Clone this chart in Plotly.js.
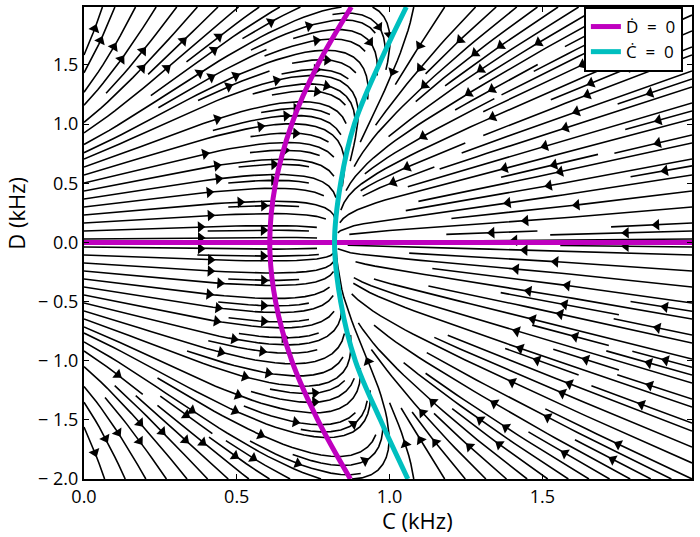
<!DOCTYPE html>
<html>
<head>
<meta charset="utf-8">
<script src="https://cdn.plot.ly/plotly-3.0.1.min.js"></script>
<style>
  body { margin: 0; background: #fff; }
  #chart { width: 700px; height: 537px; }
</style>
</head>
<body>
<div id="chart"></div>
<script>
// nullcline D' = 0, curved branch (C as a function of D)
const dNullD = [-2.0, -1.5, -1.0, -0.5, 0.0, 0.5, 1.0, 1.5, 1.99];
const dNullC = [0.872, 0.765, 0.68, 0.627, 0.608, 0.627, 0.68, 0.765, 0.875];
// D' = 0 also holds on the line D = 0
const dZeroC = [0, 1.99];
const dZeroD = [0, 0];
// nullcline C' = 0
const cNullD = [-2.0, -1.5, -1.0, -0.5, 0.0, 0.5, 1.0, 1.5, 1.99];
const cNullC = [1.06, 0.97, 0.888, 0.84, 0.82, 0.84, 0.885, 0.965, 1.055];

const xTicks = [0, 0.5, 1.0, 1.5];
const xTickText = ['0.0', '0.5', '1.0', '1.5'];
const yTicks = [-2, -1.5, -1, -0.5, 0, 0.5, 1, 1.5];
const yTickText = ['\u2212 2.0', '\u2212 1.5', '\u2212 1.0', '\u2212 0.5', '0.0', '0.5', '1.0', '1.5'];

const xMin = 0, xMax = 1.99, yMin = -2, yMax = 1.99;

// flow rates used to trace the stream lines between the nullclines
const cGain = 0.45, cCross = 1.4, dRate = 1.3, dGain = 1.0;

function interp(xs, ys, x) {
  if (x <= xs[0]) return ys[0];
  for (let i = 1; i < xs.length; i++) {
    if (x <= xs[i]) {
      const t = (x - xs[i - 1]) / (xs[i] - xs[i - 1]);
      return ys[i - 1] + t * (ys[i] - ys[i - 1]);
    }
  }
  return ys[ys.length - 1];
}

function flow(C, D) {
  const dc = (interp(cNullD, cNullC, D) - C) * (1 + cGain * C + cCross * C * D * D);
  const dd = dRate * D * (interp(dNullD, dNullC, D) - C) * (1 + dGain * D * D);
  return [dc, dd];
}

// ---- streamplot, same scheme as matplotlib (axes coords, mask grid) ----
const density = 2;
const NM = Math.floor(30 * density);
const mask = new Uint8Array(NM * NM);
const W = xMax - xMin, H = yMax - yMin;
let traj = [], curCell = null;

function vel(ax, ay, sign) {
  const f = flow(xMin + ax * W, yMin + ay * H);
  const u = f[0] / W, v = f[1] / H;
  const s = Math.hypot(u, v);
  if (s === 0) return null;
  return [sign * u / s, sign * v / s];
}
const inside = (x, y) => x >= 0 && x <= 1 && y >= 0 && y <= 1;
const cellOf = (x, y) => [Math.floor(x * (NM - 1) + 0.5), Math.floor(y * (NM - 1) + 0.5)];

function updateCell(x, y) {
  if (!inside(x, y)) return false;
  const [xm, ym] = cellOf(x, y);
  const key = ym * NM + xm;
  if (key !== curCell) {
    if (mask[key] === 0) {
      traj.push(key);
      mask[key] = 1;
      curCell = key;
    } else return false;
  }
  return true;
}

function rk12(x0, y0, sign) {
  const maxerror = 0.003, maxlength = 4.0;
  const maxds = Math.min(1 / NM, 0.1);
  let ds = maxds, stotal = 0, xi = x0, yi = y0;
  const pts = [];
  while (true) {
    if (!inside(xi, yi)) break;
    pts.push([xi, yi]);
    const k1 = vel(xi, yi, sign);
    if (!k1) break;
    const xt = xi + ds * k1[0], yt = yi + ds * k1[1];
    if (!inside(xt, yt)) {
      // euler step to the border
      const dsx = k1[0] === 0 ? Infinity : (k1[0] < 0 ? xi / -k1[0] : (1 - xi) / k1[0]);
      const dsy = k1[1] === 0 ? Infinity : (k1[1] < 0 ? yi / -k1[1] : (1 - yi) / k1[1]);
      const d = Math.min(dsx, dsy);
      pts.push([xi + k1[0] * d, yi + k1[1] * d]);
      stotal += d;
      break;
    }
    const k2 = vel(xt, yt, sign);
    if (!k2) break;
    const dx1 = ds * k1[0], dy1 = ds * k1[1];
    const dx2 = ds * 0.5 * (k1[0] + k2[0]), dy2 = ds * 0.5 * (k1[1] + k2[1]);
    const err = Math.hypot(dx2 - dx1, dy2 - dy1);
    if (err < maxerror) {
      xi += dx2; yi += dy2;
      if (!updateCell(xi, yi)) break;
      if (stotal + ds > maxlength) break;
      stotal += ds;
    }
    ds = err === 0 ? maxds : Math.min(maxds, 0.85 * ds * Math.sqrt(maxerror / err));
  }
  return [stotal, pts];
}

function integrate(x0, y0) {
  traj = [];
  curCell = null;
  updateCell(x0, y0);
  const start = curCell;
  const back = rk12(x0, y0, -1);
  curCell = start;
  const fwd = rk12(x0, y0, 1);
  const total = back[0] + fwd[0];
  if (total > 0.1) return back[1].slice().reverse().concat(fwd[1].slice(1));
  traj.forEach(k => { mask[k] = 0; });
  return null;
}

function* startingPoints(n) {
  let xfirst = 0, yfirst = 1, xlast = n - 1, ylast = n - 1, x = 0, y = 0, dir = 'right';
  for (let i = 0; i < n * n; i++) {
    yield [x, y];
    if (dir === 'right') { x++; if (x >= xlast) { xlast--; dir = 'up'; } }
    else if (dir === 'up') { y++; if (y >= ylast) { ylast--; dir = 'left'; } }
    else if (dir === 'left') { x--; if (x <= xfirst) { xfirst++; dir = 'down'; } }
    else { y--; if (y <= yfirst) { yfirst++; dir = 'right'; } }
  }
}

const lines = [];
for (const [xm, ym] of startingPoints(NM)) {
  if (mask[ym * NM + xm]) continue;
  const t = integrate(xm / (NM - 1), ym / (NM - 1));
  if (t) lines.push(t.map(p => [xMin + p[0] * W, yMin + p[1] * H]));
}

// plot area in pixels, for arrow angles
const pxW = 608, pxH = 472;
const lineX = [], lineY = [], arrowX = [], arrowY = [], arrowAng = [];
lines.forEach(pts => {
  pts.forEach(p => { lineX.push(p[0]); lineY.push(p[1]); });
  lineX.push(null); lineY.push(null);
  const s = [0];
  for (let i = 1; i < pts.length; i++) {
    s.push(s[i - 1] + Math.hypot(pts[i][0] - pts[i - 1][0], pts[i][1] - pts[i - 1][1]));
  }
  const half = s[s.length - 1] / 2;
  let n = 0;
  while (n < s.length - 2 && s[n + 1] < half) n++;
  const tail = pts[n], nxt = pts[Math.min(n + 1, pts.length - 1)];
  const head = [(tail[0] + nxt[0]) / 2, (tail[1] + nxt[1]) / 2];
  const sx = (nxt[0] - tail[0]) / W * pxW, sy = -(nxt[1] - tail[1]) / H * pxH;
  arrowX.push(head[0]); arrowY.push(head[1]);
  arrowAng.push(Math.atan2(sx, -sy) * 180 / Math.PI);
});

const font = 'Open Sans, DejaVu Sans, sans-serif';

const traces = [
  {
    x: lineX, y: lineY, mode: 'lines', showlegend: false, hoverinfo: 'skip',
    line: { color: '#000', width: 1.6 }
  },
  {
    x: arrowX, y: arrowY, mode: 'markers', showlegend: false, hoverinfo: 'skip',
    marker: { symbol: 'triangle-up', size: 10, color: '#000', angle: arrowAng }
  },
  {
    x: dNullC.concat([null], dZeroC), y: dNullD.concat([null], dZeroD),
    mode: 'lines', name: '\u1E0A  =  0',
    line: { color: '#BF00BF', width: 5, shape: 'spline' }
  },
  {
    x: cNullC, y: cNullD, mode: 'lines', name: '\u010A  =  0',
    line: { color: '#00BFBF', width: 5, shape: 'spline' }
  }
];

const axisBase = {
  showgrid: false, zeroline: false, showline: true, linecolor: '#000', linewidth: 2,
  mirror: 'ticks', ticks: 'inside', ticklen: 5, tickwidth: 1, tickcolor: '#000',
  tickfont: { family: font, size: 18, color: '#000' }
};

const layout = {
  width: 700, height: 537,
  margin: { l: 84, r: 8, t: 7, b: 58 },
  paper_bgcolor: '#fff', plot_bgcolor: '#fff',
  xaxis: Object.assign({}, axisBase, {
    range: [xMin, xMax], tickvals: xTicks, ticktext: xTickText
  }),
  yaxis: Object.assign({}, axisBase, {
    range: [yMin, yMax], tickvals: yTicks, ticktext: yTickText
  }),
  legend: {
    x: 0.985, y: 1, xanchor: 'right', yanchor: 'top',
    bgcolor: '#fff', bordercolor: '#000', borderwidth: 2,
    font: { family: font, size: 17, color: '#000' }, itemwidth: 30
  },
  annotations: [
    {
      text: 'C (kHz)', xref: 'paper', yref: 'paper', x: 0.548, y: -0.087,
      showarrow: false, xanchor: 'center', yanchor: 'middle',
      font: { family: font, size: 22, color: '#000' }
    },
    {
      text: 'D (kHz)', xref: 'paper', yref: 'paper', x: -0.112, y: 0.564,
      showarrow: false, textangle: -90, xanchor: 'center', yanchor: 'middle',
      font: { family: font, size: 22, color: '#000' }
    }
  ]
};

Plotly.newPlot('chart', traces, layout, { displayModeBar: false, staticPlot: true });
</script>
</body>
</html>
